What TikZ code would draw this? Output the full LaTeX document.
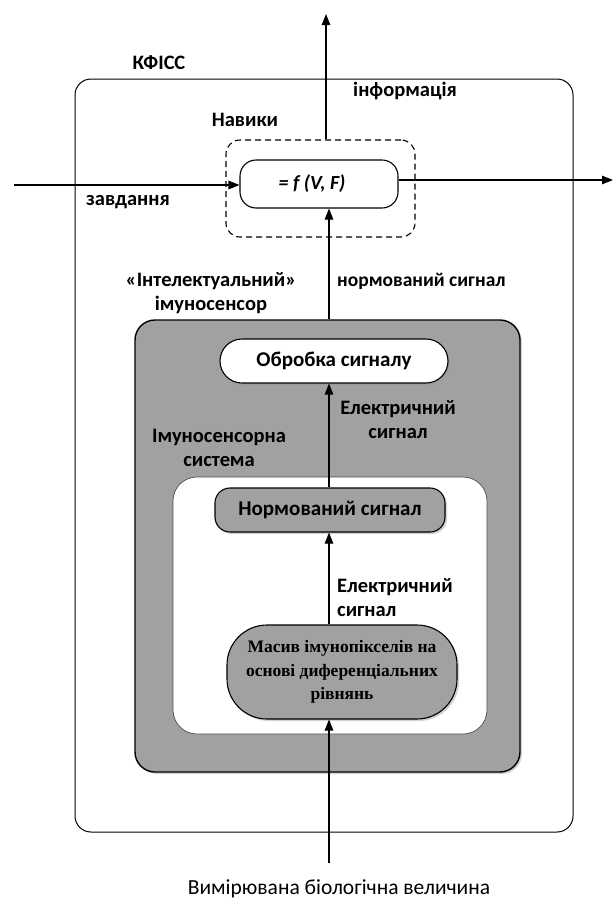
\documentclass[tikz,border=0pt]{standalone}
\usepackage{fontspec}
\setmainfont{Carlito}
\newfontfamily\timesbold{Liberation Serif}
\usetikzlibrary{arrows.meta,shadows}
\definecolor{boxgray}{gray}{0.63}
\tikzset{
	lbl/.style={font=\fontsize{20.5}{24}\selectfont\bfseries, inner sep=0pt, align=center},
	frame/.style={draw, line width=1.1pt, inner sep=0pt},
	greybox/.style={frame, fill=boxgray, drop shadow={shadow xshift=2pt, shadow yshift=-2pt, opacity=0.35}},
	arr/.style={-{Triangle[length=11pt,width=8.5pt]}, line width=1.1pt},
}
\begin{document}
\begin{tikzpicture}[x=1pt,y=-1pt]
	\useasboundingbox (0,0) rectangle (613,900);
	% containers
	\node[frame, line width=1pt, rounded corners=16, minimum width=498, minimum height=753] (kfiss) at (324,455.5) {};
	\node[frame, dash pattern=on 6pt off 4pt, rounded corners=14, minimum width=189, minimum height=97] (skills) at (320.5,188.5) {};
	\node[greybox, line width=1.4pt, rounded corners=20, minimum width=385, minimum height=452] (sensor) at (327.5,546) {};
	\node[draw=black!70, line width=0.7pt, fill=white, rounded corners=24, minimum width=314, minimum height=257] (system) at (330,605.5) {};
	% blocks
	\node[frame, fill=white, rounded corners=16, minimum width=158, minimum height=48, font=\fontsize{20}{24}\selectfont\bfseries\itshape] (fbox) at (319,184) {= f (V, F)\hspace*{14pt}};
	\node[frame, fill=white, rounded corners=22, minimum width=228, minimum height=44, font=\fontsize{21}{24}\selectfont\bfseries, drop shadow={shadow xshift=1.5pt, shadow yshift=-1.5pt, opacity=0.3}] (proc) at (334,361) {Обробка сигналу};
	\node[greybox, rounded corners=15, minimum width=230, minimum height=44, font=\fontsize{21}{24}\selectfont\bfseries] (norm) at (330,510) {Нормований сигнал};
	\node[greybox, rounded corners=40, minimum width=230, minimum height=94, align=center, font=\timesbold\fontsize{17.5}{23.5}\selectfont\bfseries] (mass) at (342,672) {Масив імунопікселів на\\основі диференціальних\\рівнянь};
	% labels
	\node[lbl] (kfisslbl) at (159,63) {КФІСС};
	\node[lbl] (info) at (405,91) {інформація};
	\node[lbl] (skillslbl) at (245,120) {Навики};
	\node[lbl] (task) at (128,202) {завдання};
	\node[lbl] (intel) at (211,293) {«Інтелектуальний»\\імуносенсор};
	\node[lbl, anchor=west, font=\fontsize{19.5}{24}\selectfont\bfseries] (normlbl) at (337,281) {нормований сигнал};
	\node[lbl] (elec1) at (398,420) {Електричний\\сигнал};
	\node[lbl] (syslbl) at (219,448) {Імуносенсорна\\система};
	\node[lbl, align=left, anchor=west] (elec2) at (337,598) {Електричний\\сигнал};
	\node[inner sep=0pt, anchor=base, font=\fontsize{21.5}{24}\selectfont] (meas) at (339,894) {Вимірювана біологічна величина};
	% connectors
	\coordinate (axis) at (329,0);
	\coordinate (out) at (326,14);
	\coordinate (in) at (14,185);
	\coordinate (res) at (613,180);
	\coordinate (src) at (329,863);
	\draw[arr] (skills.north -| out) -- (out);
	\draw[arr] (in) -- (in -| fbox.west);
	\draw[arr] (res -| fbox.east) -- (res);
	\draw[arr] (sensor.north -| axis) -- (fbox.south -| axis);
	\draw[arr] (norm.north -| axis) -- (proc.south -| axis);
	\draw[arr] (mass.north -| axis) -- (norm.south -| axis);
	\draw[arr] (src) -- (mass.south -| src);
\end{tikzpicture}
\end{document}
